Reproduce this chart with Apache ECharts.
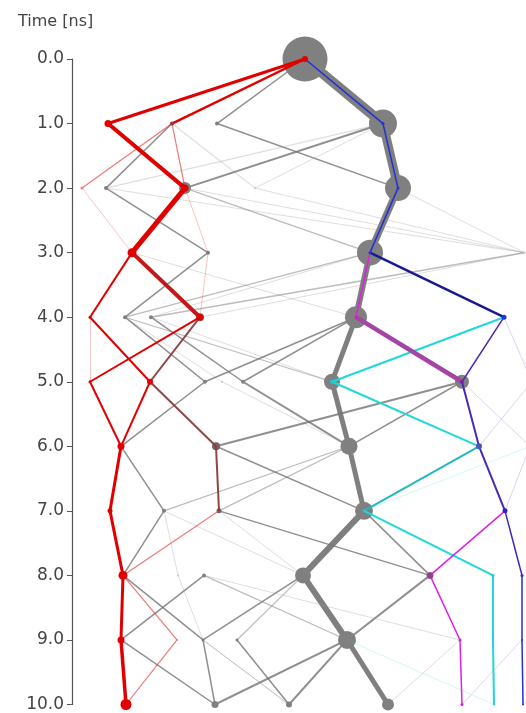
<!DOCTYPE html>
<html>
<head>
<meta charset="utf-8">
<script src="https://cdn.jsdelivr.net/npm/echarts@6/dist/echarts.min.js"></script>
<style>
html,body{margin:0;padding:0;background:#fff;}
#chart{width:526px;height:713px;}
</style>
</head>
<body>
<div id="chart"></div>
<script>
// ---- data ----
const timeTicks = [0,1,2,3,4,5,6,7,8,9,10];
const nodeNames = ['A0','R1a','R1b','G1c','G1d','R2a','G2b','R2c','G2e','G2d','R3a','G3b','G3c','G3d',
  'R4a','G4b','G4c','R4d','G4e','B4f','R5a','R5b','G5c','G5e','G5d','C5f','P5g','X5',
  'R6a','G6b','G6c','B6d','X6','R7a','G7b','G7c','G7d','B7e',
  'R8a','G8b','G8c','G8d','M8e','C8f','B8g','R9a','R9b','G9c','G9d','G9e','M9f','C9g','B9h',
  'R10a','G10b','G10c','G10d','M10e','C10f','B10g'];
const nodeTime = [0,1,1,1,1,2,2,2,2,2,3,3,3,3,
  4,4,4,4,4,4,5,5,5,5,5,5,5,5,
  6,6,6,6,6,7,7,7,7,7,
  8,8,8,8,8,8,8,9,9,9,9,9,9,9,9,
  10,10,10,10,10,10,10];
const nodePos = [305,108,172,217,383,82,106,185,255,398,132,208,370,524,
  90,125,151,200,356,504,90,150,205,222,243,332,462,532,
  121,216,349,479,530,110,164,219,364,505,
  123,178,204,303,430,493,522,121,177,203,237,347,460,493,522,
  126,215,289,388,462,494,523];
// weight of the pooled (gray) state and of the highlighted pathway state
const nodeWeight = [45,0,0,4,28,0,4,12,2,26,0,4,26,3,
  0,4,4,8,22,0,0,0,4,2,4,16,14,0,
  0,8,17,0,0,0,4,5,18,0,
  0,2,4,16,7,0,0,0,0,3,3,18,0,0,0,
  0,7,6,12,0,0,0];
const pathWeight = [6,7,4,0,3,3,0,7,0,3,9,0,3,0,
  3,0,0,7,3,5,3,6,0,0,0,4,4,0,
  7,0,0,6,0,5,0,0,3,5,
  9,0,0,0,6,3,3,7,2,0,0,0,3,2,2,
  11,0,0,0,3,2,2];
const nodeGroup = ['red','red','darkred','gray','blue','lightred','gray','red','faint','blue','red','gray','blue','faint',
  'red','gray','gray','red','magenta','blue','red','red','gray','faint','gray','cyan','purple','faint',
  'red','brown','gray','steel','faint','red','gray','brown','cyan','indigo',
  'red','faint','gray','gray','plum','cyan','blue','red','lightred','gray','gray','gray','magenta','cyan','blue',
  'red','gray','gray','gray','magenta','cyan','blue'];

// transitions: [from, to, group, flux]
const grayEdges = [
  ['A0','G1d','main',10],['G1d','G2d','main',9],['G2d','G3c','main',7],['G3c','G4e','main',6],
  ['G4e','C5f','main',5],['C5f','G6c','main',5],['G6c','G7d','main',5],['G7d','G8d','main',6],
  ['G8d','G9e','main',6],['G9e','G10d','main',5],
  ['A0','G1c','gray',1.5],['G1c','G2d','gray',1.5],['R1b','G2b','gray',1.5],['R1b','G2e','gray3',1.2],
  ['G1d','G2b','gray3',1.2],['G1d','R2c','gray',2],['G1d','G2e','gray3',1],
  ['G2b','G3b','gray',1.5],['G2b','G3d','gray3',1],['R2c','G3c','gray2',1.5],['R2c','G3d','gray3',1],
  ['G2d','G3d','gray3',1],['G2e','G3d','gray3',1],
  ['R3a','G4e','gray3',1],['G3b','G4b','gray',1.5],['G3c','G4b','gray2',1.2],['G3d','G4c','gray2',1.5],
  ['G3d','R4d','gray3',1],['G3c','G4c','gray3',1],
  ['G4b','G5c','gray',1.5],['G4b','C5f','gray2',1.2],['G4c','G5d','gray',1.5],['G4c','C5f','gray3',1],
  ['G4b','G5e','gray3',1],['G4e','G5c','gray',1.5],['G4e','G5d','gray',1.5],
  ['G5c','R6a','gray',1.5],['G5d','G6c','gray',2],['G5e','G6c','gray3',1],['P5g','G6b','gray',2],
  ['P5g','G6c','gray',1.5],
  ['R6a','G7b','gray',1.5],['G6b','G7d','gray',1.5],['G6c','G7b','gray2',1.2],['G6c','G7c','gray2',1.2],
  ['G7b','R8a','gray',1.5],['G7b','G8b','gray3',1],['G7c','M8e','gray',1.5],['G7d','M8e','gray',1.5],
  ['G7b','G8d','gray3',1],['G7c','G8d','gray3',1],
  ['G8b','G9c','gray3',1],['G8c','R9a','gray',1.5],['G8c','G9e','gray2',1.2],['G8d','G9c','gray',1.5],
  ['G8d','G9d','gray2',1.2],['M8e','G9e','gray',2],['R8a','G9c','gray',1.5],['G8c','M9f','gray3',1],
  ['G9c','G10b','gray',1.5],['R9a','G10b','gray',1.5],['G9d','G10c','gray',1.5],['G9e','G10b','gray',2],
  ['G9e','G10c','gray',2],['G9c','G10c','gray2',1],['M9f','G10d','gray3',1]
];
const pathEdges = [
  ['B4f','X5','lav',1],['X5','B6d','lav',1],['P5g','X6','lav',1],['B7e','X6','lav',1],['B9h','M10e','lav',1],
  ['G7d','X6','cyan3',1],['G9e','C10f','cyan3',1],
  ['R2a','R3a','red3',1],['R2c','G3b','red3',1],['G3b','R4d','red3',1],['R4a','R5a','red3',1],
  ['R1b','R2c','red2',1.2],['R1b','R2a','red2',1.2],['G7c','R8a','red2',1.2],['R8a','R9b','red2',1.2],
  ['R9b','R10a','red2',1.2],
  ['A0','R1b','red',2.5],['A0','R1a','red',3],['R1a','R2c','red',4],['R2c','R3a','red',5],
  ['R3a','R4a','red',2],['R3a','R4d','darkred',4],['R4a','R5b','red',2],['R4d','R5a','red',2],
  ['R4d','R5b','brown',2],['R5a','R6a','red',2],['R5b','R6a','red',2],['R5b','G6b','brown',2],
  ['G6b','G7c','brown',2],['R6a','R7a','red',3],['R7a','R8a','red',3],['R8a','R9a','red',3],
  ['R9a','R10a','red',3.5],
  ['A0','G1d','blue',1.5],['G1d','G2d','blue',1.5],['G2d','G3c','blue',1.5],['G3c','B4f','navy',2.5],
  ['B4f','P5g','purple',1.5],['P5g','B6d','purple',2],['B6d','B7e','purple',2],['B7e','B8g','indigo',1.5],
  ['B8g','B9h','blue',1.5],['B9h','B10g','blue',1.5],
  ['B4f','C5f','cyan',2],['C5f','B6d','cyan',2],['B6d','G7d','teal',2],['G7d','C8f','cyan',2],
  ['C8f','C9g','cyan',2],['C9g','C10f','cyan',2],
  ['G3c','G4e','magenta',1.5],['G4e','P5g','plum',4.5],['B7e','M8e','magenta',1.5],
  ['M8e','M9f','magenta',1.5],['M9f','M10e','magenta',1.5]
];

// ---- styles ----
const edgeStyle = {
  main:{color:'#7f7f7f',opacity:1}, gray:{color:'#737373',opacity:0.8},
  gray2:{color:'#7a7a7a',opacity:0.5}, gray3:{color:'#9a9a9a',opacity:0.33},
  red:{color:'#e00000',opacity:1}, red2:{color:'#e02020',opacity:0.6}, red3:{color:'#e04040',opacity:0.3},
  darkred:{color:'#c41818',opacity:1}, brown:{color:'#8a3c3c',opacity:0.95},
  blue:{color:'#1f30d8',opacity:1}, navy:{color:'#1a1a90',opacity:1}, purple:{color:'#4a28b8',opacity:1},
  indigo:{color:'#3a22c0',opacity:1}, lav:{color:'#6a5acd',opacity:0.25},
  cyan:{color:'#20d8d8',opacity:1}, teal:{color:'#22b8c0',opacity:1}, cyan3:{color:'#20d8d8',opacity:0.2},
  magenta:{color:'#e020e0',opacity:1}, plum:{color:'#a444a4',opacity:1}
};
const dotColor = {
  red:'#e00000', darkred:'#a03030', lightred:'#f08080', blue:'#2233dd', magenta:'#d020d0',
  cyan:'#20c8d8', purple:'#6a2aa8', steel:'#4a56b0', indigo:'#3a20b8', plum:'#9a3a9a',
  gray:'#7f7f7f', brown:'#7a5a5a', faint:'#bbbbbb'
};
const FONT = 'DejaVu Sans, Verdana, sans-serif';

function baseNodes() {
  return nodeNames.map((n,i)=>({name:n, value:[nodePos[i], nodeTime[i]]}));
}
const grayNodes = baseNodes().map((d,i)=>{
  const g = nodeGroup[i];
  const c = (g==='brown') ? '#7a6262' : (g==='faint' ? '#c8c8c8' : '#808080');
  return Object.assign(d, {symbolSize: nodeWeight[i], itemStyle:{color:c}});
});
const pathNodes = baseNodes().map((d,i)=>{
  return Object.assign(d, {symbolSize: pathWeight[i], itemStyle:{color: dotColor[nodeGroup[i]]}});
});
function mkLinks(list){
  return list.map(e=>({source:e[0], target:e[1],
    lineStyle:{color:edgeStyle[e[2]].color, opacity:edgeStyle[e[2]].opacity, width:e[3], curveness:0}}));
}

const chart = echarts.init(document.getElementById('chart'), null, {renderer:'canvas'});
chart.setOption({
  animation:false,
  title:{text:'Time [ns]', left:13, top:9,
    textStyle:{fontSize:16, fontWeight:'normal', color:'#444', fontFamily:FONT}},
  grid:{left:72, right:0, top:59, bottom:8},
  xAxis:{type:'value', min:72, max:526, show:false},
  yAxis:{type:'value', inverse:true, min:0, max:10, interval:1,
    axisLine:{show:true, lineStyle:{color:'#555', width:1.2}},
    axisTick:{show:true, inside:false, length:5, lineStyle:{color:'#555'}},
    splitLine:{show:false},
    axisLabel:{formatter:v=>v.toFixed(1), fontSize:17, color:'#444', margin:8, fontFamily:FONT}
  },
  series:[
    {type:'graph', coordinateSystem:'cartesian2d', layout:'none', silent:true, z:2,
      symbol:'circle', data:grayNodes, links:mkLinks(grayEdges), label:{show:false}},
    {type:'graph', coordinateSystem:'cartesian2d', layout:'none', silent:true, z:3,
      symbol:'circle', data:pathNodes, links:mkLinks(pathEdges), label:{show:false}}
  ]
});
</script>
</body>
</html>
